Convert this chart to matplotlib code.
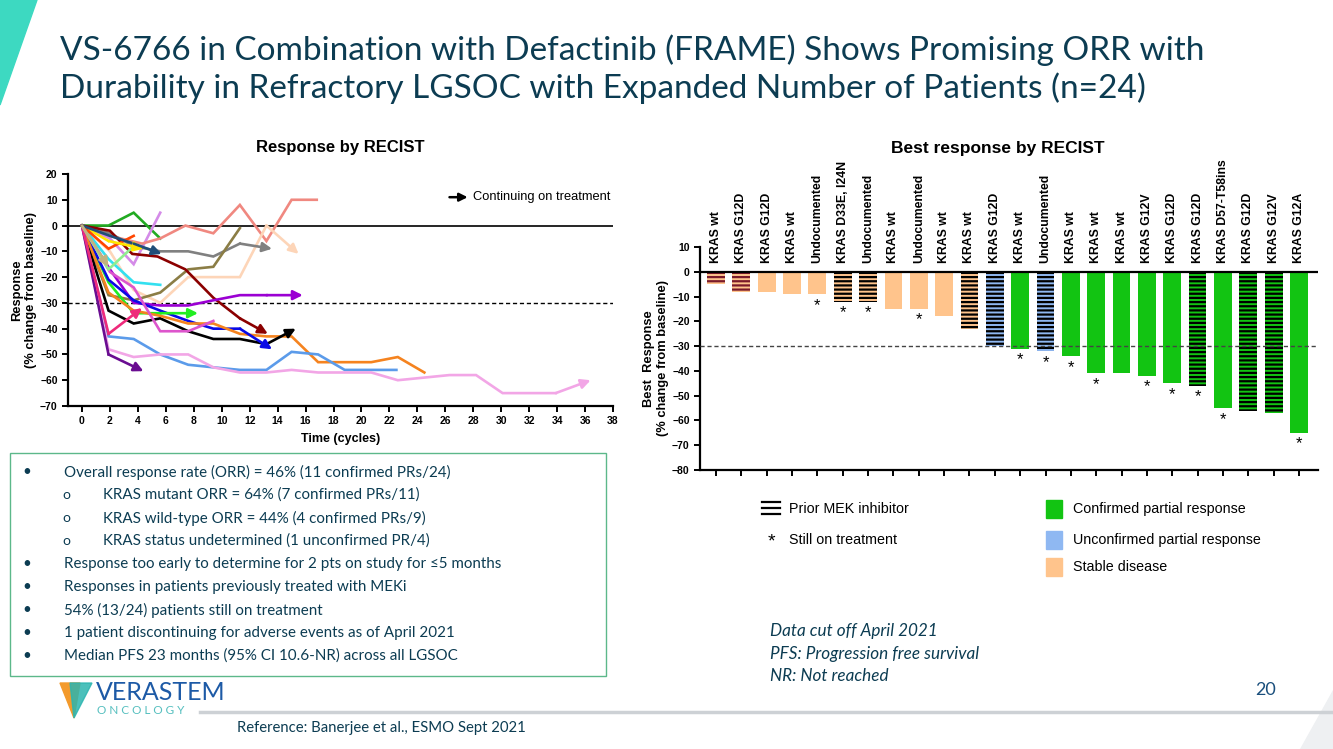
import matplotlib
matplotlib.use('Agg')
import matplotlib.pyplot as plt
from matplotlib.patches import Rectangle, Polygon
from matplotlib.lines import Line2D

plt.rcParams['font.family'] = ['Liberation Sans', 'DejaVu Sans']
plt.rcParams['hatch.linewidth'] = 1.6

W, H = 1333, 749

# ---- left chart: response over time per patient ----
cycles = [
    [0, 1.9, 3.7, 5.6],
    [0, 2, 3.7, 5.6],
    [0, 2, 4.3, 5.6, 7.4, 9.4, 11.3, 13.2, 15, 16.8],
    [0, 2, 3.7, 5.6, 7.6, 9.4, 11.3, 13.2, 15.5],
    [0, 2, 3.7, 5.6, 7.6, 9.4, 11.3, 13.6],
    [0, 1.9, 3.7, 5.6, 7.6, 9.4, 11.3],
    [0, 2, 3.6, 5.4, 7.4, 9.4, 11.3, 13.3],
    [0, 2, 3.7, 5.6, 7.6, 9.4, 11.3, 13.2, 15.8],
    [0, 1.9, 3.7, 5.6, 8.3],
    [0, 1.9, 3.7, 5.6, 7.6, 9.4, 11.3, 13.2, 15.3],
    [0, 1.9, 3.7, 5.6, 7.6, 9.4, 11.3, 13.6],
    [0, 1.9, 3.7, 5.6, 7.6, 9.4, 11.3, 13.2, 15, 16.9, 18.8, 20.7, 22.6, 24.5],
    [0, 1.9, 3.7, 5.6, 7.6, 9.4, 11.3, 13.2, 15, 16.9, 18.8, 22.5],
    [0, 1.9, 3.7, 5.6, 7.6, 9.4, 11.3, 13.2, 15, 16.9, 20.7, 22.6, 26.3, 28.2, 30.1, 33.9, 36.4],
    [0, 1.9, 4.4],
    [0, 1.9, 4.3],
    [0, 2, 3.7, 5.6, 7.6, 9.4],
    [0, 1.9, 3.7, 5.6],
    [0, 1.9, 3.7],
    [0, 1.9, 4.4],
    [0, 1.9, 3.7],
    [0, 2, 3.7, 5.7],
    [0, 1.9],
]
responses = [
    [0, 0, 5, -5],
    [0, -5, -15, 5],
    [0, -4, -7, -5, 0, -3, 8, -6, 10, 10],
    [0, -10, -25, -30, -20, -20, -20, 0, -11],
    [0, -3, -8, -10, -10, -12, -7, -9],
    [0, -27, -29, -26, -17, -16, -1],
    [0, -2, -11, -12, -17, -28, -36, -42],
    [0, -17, -30, -31, -31, -29, -27, -27, -27],
    [0, -22, -34, -34, -34],
    [0, -33, -38, -36, -41, -44, -44, -46, -40],
    [0, -21, -29, -33, -37, -40, -40, -48],
    [0, -26, -33, -35, -38, -38, -42, -43, -43, -53, -53, -53, -51, -57],
    [0, -43, -44, -50, -54, -55, -56, -56, -49, -50, -56, -56],
    [0, -48, -51, -50, -50, -55, -57, -57, -56, -57, -57, -60, -58, -58, -65, -65, -60],
    [0, -50, -56.5],
    [0, -42, -32],
    [0, -18, -24, -41, -41, -37],
    [0, -13, -22, -23],
    [0, -17, -8],
    [0, -6, -9],
    [0, -9, -4],
    [0, -4, -7, -11],
    [0, -16],
]
continuing = [False, False, False, True, True, False, True, True, True, True, True,
              False, False, True, True, True, False, False, False, True, False, True, True]
line_colors = ['#22aa22', '#d48be8', '#f08880', '#fdd5b8', '#808080', '#8b7d45', '#8b0000',
               '#9b00d3', '#22ee22', '#000000', '#0a0ae6', '#f5831f', '#5b9bea', '#f2a6e6',
               '#6a0d91', '#ee2a7b', '#dd55cc', '#33e0f0', '#90ee90', '#ffe600', '#ff4500',
               '#1f4e79', '#c2b280']

# ---- right chart: best response waterfall ----
patients = list(range(1, 25))
best_response = [-5, -8, -8, -9, -9, -12, -12, -15, -15, -18, -23, -30,
                 -31, -32, -34, -41, -41, -42, -45, -46, -55, -56, -57, -65]
mutation = ['KRAS wt', 'KRAS G12D', 'KRAS G12D', 'KRAS wt', 'Undocumented',
            'KRAS D33E, I24N', 'Undocumented', 'KRAS wt', 'Undocumented', 'KRAS wt',
            'KRAS wt', 'KRAS G12D', 'KRAS wt', 'Undocumented', 'KRAS wt', 'KRAS wt',
            'KRAS wt', 'KRAS G12V', 'KRAS G12D', 'KRAS G12D', 'KRAS D57-T58ins',
            'KRAS G12D', 'KRAS G12V', 'KRAS G12A']
status = ['SD'] * 11 + ['uPR', 'cPR', 'uPR'] + ['cPR'] * 10
prior_mek = [1, 1, 0, 0, 0, 1, 1, 0, 0, 0, 1, 1, 0, 1, 0, 0, 0, 0, 0, 1, 0, 1, 1, 0]
on_treatment = [0, 0, 0, 0, 1, 1, 1, 0, 1, 0, 0, 0, 1, 1, 1, 1, 0, 1, 1, 1, 1, 0, 0, 1]
status_colors = {'cPR': '#12c412', 'uPR': '#8fb8f2', 'SD': '#ffc48c'}

fig = plt.figure(figsize=(W / 100, H / 100), dpi=100)


def fx(px):
    return px / W


def fy(py):
    return 1 - py / H


def box(l, t, r, b):
    return [fx(l), fy(b), fx(r) - fx(l), fy(t) - fy(b)]


slide_font = ['Lato', 'DejaVu Sans']
navy = '#0c3c52'

# decoration
fig.patches.append(Polygon([[fx(0), fy(0)], [fx(37), fy(0)], [fx(0), fy(105)]],
                           closed=True, transform=fig.transFigure, color='#3dd9c1'))
fig.patches.append(Polygon([[fx(1333), fy(690)], [fx(1333), fy(749)], [fx(1300), fy(749)]],
                           closed=True, transform=fig.transFigure, color='#eef0f2'))
fig.text(fx(60), fy(50), 'VS-6766 in Combination with Defactinib (FRAME) Shows Promising ORR with',
         fontsize=24, family=slide_font, color=navy, va='center')
fig.text(fx(60), fy(88), 'Durability in Refractory LGSOC with Expanded Number of Patients (n=24)',
         fontsize=24, family=slide_font, color=navy, va='center')

# left chart
ax1 = fig.add_axes(box(68, 174, 613, 406))
for xs, ys, c, cont in zip(cycles, responses, line_colors, continuing):
    if cont:
        ax1.plot(xs[:-1], ys[:-1], color=c, lw=1.9, solid_joinstyle='miter')
        ax1.annotate('', xy=(xs[-1], ys[-1]), xytext=(xs[-2], ys[-2]),
                     arrowprops=dict(arrowstyle='-|>', color=c, lw=1.9,
                                     mutation_scale=14, shrinkA=0, shrinkB=0))
    else:
        ax1.plot(xs, ys, color=c, lw=1.9, solid_joinstyle='miter')
ax1.axhline(0, color='black', lw=1.2, zorder=0)
ax1.axhline(-30, color='black', lw=1, ls=(0, (3, 2)), zorder=0)
ax1.set_xlim(-1, 38)
ax1.set_ylim(-70, 20)
ax1.set_xticks(range(0, 39, 2))
ax1.set_yticks(range(-70, 21, 10))
for s in ['top', 'right']:
    ax1.spines[s].set_visible(False)
for s in ['left', 'bottom']:
    ax1.spines[s].set_linewidth(1.6)
ax1.tick_params(labelsize=7.5, width=1.4, length=4)
for lab in ax1.get_xticklabels() + ax1.get_yticklabels():
    lab.set_fontweight('bold')
ax1.set_xlabel('Time (cycles)', fontsize=9, fontweight='bold', labelpad=5)
ax1.set_ylabel('Response\n(% change from baseline)', fontsize=9.3, fontweight='bold', labelpad=2)
ax1.set_title('Response by RECIST', fontsize=12, fontweight='bold', pad=16)
ax1.annotate('', xy=(27.6, 11), xytext=(26.3, 11),
             arrowprops=dict(arrowstyle='-|>', color='black', lw=1.8,
                             mutation_scale=12, shrinkA=0, shrinkB=0))
ax1.text(28.0, 11, 'Continuing on treatment', fontsize=9.3, va='center')

# right chart
ax2 = fig.add_axes(box(700, 247, 1318, 470))
for p, v, st, mek, tr, lab in zip(patients, best_response, status, prior_mek, on_treatment, mutation):
    hcol = '#7a1a2a' if p <= 2 else 'black'
    ax2.bar(p, v, width=0.7, color=status_colors[st], edgecolor=hcol if mek else 'none',
            linewidth=0, hatch='----' if mek else None, zorder=2)
    if tr:
        ax2.text(p, v - 4.5, '*', ha='center', va='center', fontsize=12)
    ax2.text(p, 3.6, lab, rotation=90, ha='center', va='bottom', fontsize=8.8, fontweight='bold')
ax2.axhline(0, color='black', lw=1.6, zorder=3)
ax2.axhline(-30, color='#444444', lw=1, ls=(0, (3, 2)), zorder=3)
ax2.set_xlim(0.37, 24.75)
ax2.set_ylim(-80, 10)
ax2.set_xticks(patients)
ax2.set_xticklabels([])
ax2.set_yticks(range(-80, 11, 10))
for s in ['top', 'right']:
    ax2.spines[s].set_visible(False)
for s in ['left', 'bottom']:
    ax2.spines[s].set_linewidth(1.6)
ax2.tick_params(labelsize=7.5, width=1.4, length=4)
for lab in ax2.get_yticklabels():
    lab.set_fontweight('bold')
ax2.set_ylabel('Best  Response\n(% change from baseline)', fontsize=9.3, fontweight='bold', labelpad=2)
fig.text(fx(998), fy(148), 'Best response by RECIST', fontsize=12.5, fontweight='bold',
         ha='center', va='center')

# right legend
for yy in [502, 508, 514]:
    fig.lines.append(Line2D([fx(762), fx(780)], [fy(yy), fy(yy)], transform=fig.transFigure,
                            color='black', lw=1.6))
fig.text(fx(789), fy(509), 'Prior MEK inhibitor', fontsize=10.3, va='center')
fig.text(fx(771), fy(542), '*', fontsize=14, va='center', ha='center')
fig.text(fx(789), fy(540), 'Still on treatment', fontsize=10.3, va='center')
for yy, key, txt in [(509, 'cPR', 'Confirmed partial response'),
                     (540, 'uPR', 'Unconfirmed partial response'),
                     (567, 'SD', 'Stable disease')]:
    fig.patches.append(Rectangle((fx(1046), fy(yy + 9)), fx(16), 18 / H,
                                 transform=fig.transFigure, color=status_colors[key]))
    fig.text(fx(1073), fy(yy), txt, fontsize=10.3, va='center')

# summary box
fig.patches.append(Rectangle((fx(10), fy(676)), fx(596), 223 / H, transform=fig.transFigure,
                             fill=False, edgecolor='#5cb88a', lw=1))
bullets = [
    (0, 'Overall response rate (ORR) = 46% (11 confirmed PRs/24)'),
    (1, 'KRAS mutant ORR = 64% (7 confirmed PRs/11)'),
    (1, 'KRAS wild-type ORR = 44% (4 confirmed PRs/9)'),
    (1, 'KRAS status undetermined (1 unconfirmed PR/4)'),
    (0, 'Response too early to determine for 2 pts on study for \u22645 months'),
    (0, 'Responses in patients previously treated with MEKi'),
    (0, '54% (13/24) patients still on treatment'),
    (0, '1 patient discontinuing for adverse events as of April 2021'),
    (0, 'Median PFS 23 months (95% CI 10.6-NR) across all LGSOC'),
]
for i, (lvl, txt) in enumerate(bullets):
    yy = fy(472 + 23 * i)
    if lvl == 0:
        fig.text(fx(22), yy, '\u2022', fontsize=11, family=slide_font, color=navy, va='center')
        fig.text(fx(64), yy, txt, fontsize=10.9, family=slide_font, color=navy, va='center')
    else:
        fig.text(fx(62), yy, 'o', fontsize=10, family=slide_font, color=navy, va='center')
        fig.text(fx(103), yy, txt, fontsize=10.9, family=slide_font, color=navy, va='center')

# notes
for i, txt in enumerate(['Data cut off April 2021', 'PFS: Progression free survival', 'NR: Not reached']):
    fig.text(fx(770), fy(631 + 22.5 * i), txt, fontsize=12.3, style='italic', family=slide_font,
             color=navy, va='center')
fig.text(fx(1255), fy(690), '20', fontsize=13, family=slide_font, color='#1a4f7c', va='center')

# footer
fig.patches.append(Polygon([[fx(60), fy(683)], [fx(80), fy(683)], [fx(74), fy(718)]], closed=True,
                           transform=fig.transFigure, color='#f39a2b'))
fig.patches.append(Polygon([[fx(70), fy(683)], [fx(92), fy(683)], [fx(74), fy(718)]], closed=True,
                           transform=fig.transFigure, color='#2bb5b0', alpha=0.85))
fig.text(fx(96), fy(692), 'VERASTEM', fontsize=18, family=slide_font, color='#1d5aa6', va='center')
fig.text(fx(97), fy(711), 'O N C O L O G Y', fontsize=8.5, family=slide_font, color='#55bfbf',
         va='center')
fig.lines.append(Line2D([fx(200), fx(1333)], [fy(712), fy(712)], transform=fig.transFigure,
                        color='#cdd1d5', lw=2.5))
fig.text(fx(237), fy(728), 'Reference: Banerjee et al., ESMO Sept 2021', fontsize=10.7,
         family=slide_font, color=navy, va='center')

fig.savefig('out.png', dpi=100)
